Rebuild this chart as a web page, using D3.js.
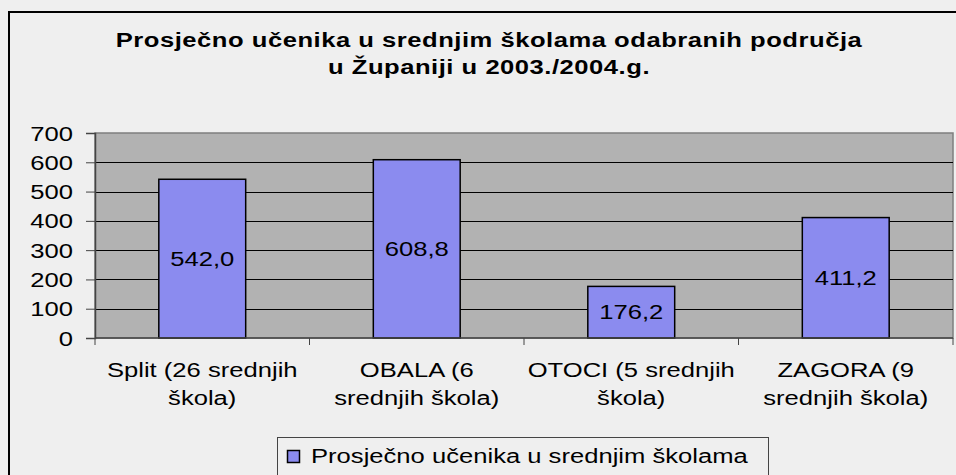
<!DOCTYPE html>
<html>
<head>
<meta charset="utf-8">
<script src="https://cdn.jsdelivr.net/npm/d3@7"></script>
<style>
  body { margin: 0; background: #efefef; }
  svg { display: block; font-family: "Liberation Sans", Arial, sans-serif; }
</style>
</head>
<body>
<svg id="chart" width="956" height="475"></svg>
<script>
// data
var categories = ["Split (26 srednjih škola)", "OBALA (6 srednjih škola)", "OTOCI (5 srednjih škola)", "ZAGORA (9 srednjih škola)"];
var categoryLines = [
    ["Split (26 srednjih", "škola)"],
    ["OBALA (6", "srednjih škola)"],
    ["OTOCI (5 srednjih", "škola)"],
    ["ZAGORA (9", "srednjih škola)"]
];
var values = [542.0, 608.8, 176.2, 411.2];
var yTicks = [0, 100, 200, 300, 400, 500, 600, 700];
var seriesName = "Prosječno učenika u srednjim školama";
var titleLines = ["Prosječno učenika u srednjim školama odabranih područja", "u Županiji u 2003./2004.g."];

var svg = d3.select("#chart"),
    width = +svg.attr("width"),
    height = +svg.attr("height");

var plot = { left: 95, right: 953, top: 133, bottom: 338 };
var sx = 1.28; // the original picture is stretched sideways, text too

function wide(x, y) {
    return "translate(" + x + "," + y + ") scale(" + sx + ",1)";
}

// outer frame
svg.append("path")
    .attr("d", "M9," + height + "V12H" + (width + 2))
    .attr("fill", "none")
    .attr("stroke", "#000")
    .attr("stroke-width", 2);

// title
svg.append("g").selectAll("text")
    .data(titleLines)
    .enter().append("text")
    .attr("transform", function (d, i) { return wide(489, 47 + i * 27); })
    .attr("text-anchor", "middle")
    .attr("font-size", 20)
    .attr("font-weight", "bold")
    .attr("letter-spacing", 0.4)
    .text(function (d) { return d; });

var x = d3.scaleBand()
    .domain(categories)
    .range([plot.left, plot.right])
    .paddingInner(0)
    .paddingOuter(0);

var y = d3.scaleLinear()
    .domain([0, 700])
    .range([plot.bottom, plot.top]);

// plot background
svg.append("rect")
    .attr("x", plot.left)
    .attr("y", plot.top)
    .attr("width", plot.right - plot.left)
    .attr("height", plot.bottom - plot.top)
    .attr("fill", "#b2b2b2")
    .attr("stroke", "#7f7f7f")
    .attr("stroke-width", 1.5);

// gridlines
svg.append("g")
    .selectAll("line")
    .data(yTicks.filter(function (d) { return d > 0 && d < 700; }))
    .enter().append("line")
    .attr("x1", plot.left)
    .attr("x2", plot.right)
    .attr("y1", function (d) { return Math.round(y(d)) + 0.5; })
    .attr("y2", function (d) { return Math.round(y(d)) + 0.5; })
    .attr("stroke", "#000")
    .attr("stroke-width", 1);

// bars
var barW = x.bandwidth() * 0.405;
svg.append("g")
    .selectAll("rect")
    .data(values)
    .enter().append("rect")
    .attr("x", function (d, i) { return x(categories[i]) + (x.bandwidth() - barW) / 2; })
    .attr("y", function (d) { return y(d); })
    .attr("width", barW)
    .attr("height", function (d) { return y(0) - y(d); })
    .attr("fill", "#8b8bef")
    .attr("stroke", "#000")
    .attr("stroke-width", 1.5);

// value labels
svg.append("g")
    .selectAll("text")
    .data(values)
    .enter().append("text")
    .attr("transform", function (d, i) {
        return wide(x(categories[i]) + x.bandwidth() / 2, (y(d) + y(0)) / 2 + 7);
    })
    .attr("text-anchor", "middle")
    .attr("font-size", 20)
    .attr("fill", "#000")
    .text(function (d) { return d3.format(".1f")(d).replace(".", ","); });

// y axis
var yAxis = svg.append("g")
    .attr("transform", "translate(" + plot.left + ",0)")
    .call(d3.axisLeft(y).tickValues(yTicks).tickSize(9).tickPadding(12));
yAxis.select(".domain").attr("stroke", "#444").attr("stroke-width", 1.5);
yAxis.selectAll(".tick line").attr("stroke", "#444");
yAxis.selectAll(".tick text")
    .attr("x", null)
    .attr("dy", null)
    .attr("transform", wide(-22, 7))
    .attr("font-size", 20)
    .attr("font-family", "Liberation Sans, Arial, sans-serif")
    .attr("fill", "#000");

// x axis
var xAxis = svg.append("g")
    .attr("transform", "translate(0," + plot.bottom + ")");
xAxis.append("line")
    .attr("x1", plot.left)
    .attr("x2", plot.right)
    .attr("stroke", "#444")
    .attr("stroke-width", 1.5);
xAxis.selectAll(".tk")
    .data(categories.concat(["end"]))
    .enter().append("line")
    .attr("class", "tk")
    .attr("x1", function (d) { return d == "end" ? plot.right : x(d); })
    .attr("x2", function (d) { return d == "end" ? plot.right : x(d); })
    .attr("y1", 0)
    .attr("y2", 7)
    .attr("stroke", "#444");

var xl = svg.append("g").selectAll("g")
    .data(categoryLines)
    .enter().append("g");
xl.selectAll("text")
    .data(function (d, i) { return d.map(function (t) { return { t: t, i: i }; }); })
    .enter().append("text")
    .attr("transform", function (d, j) {
        return wide(x(categories[d.i]) + x.bandwidth() / 2, 377 + j * 28);
    })
    .attr("text-anchor", "middle")
    .attr("font-size", 20)
    .attr("fill", "#000")
    .text(function (d) { return d.t; });

// legend
var legend = svg.append("g");
legend.append("rect")
    .attr("x", 277.5)
    .attr("y", 437.5)
    .attr("width", 491)
    .attr("height", 60)
    .attr("fill", "#efefef")
    .attr("stroke", "#444")
    .attr("stroke-width", 1);
legend.append("rect")
    .attr("x", 287.5)
    .attr("y", 450.5)
    .attr("width", 12)
    .attr("height", 12)
    .attr("fill", "#8b8bef")
    .attr("stroke", "#000")
    .attr("stroke-width", 1.5);
legend.append("text")
    .attr("transform", wide(311, 463))
    .attr("font-size", 20)
    .text(seriesName);
</script>
</body>
</html>
